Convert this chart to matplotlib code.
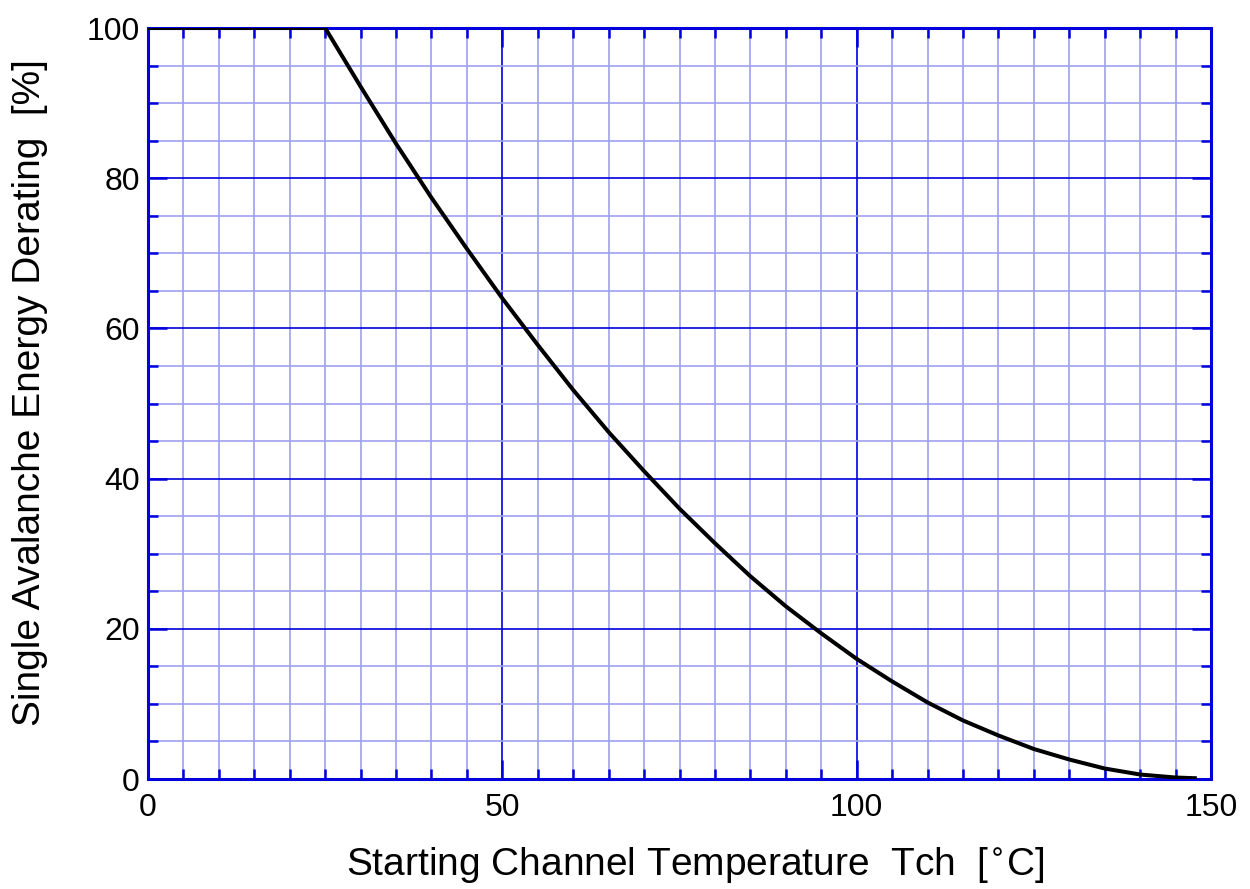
import matplotlib.pyplot as plt
from matplotlib.ticker import MultipleLocator

plt.rcParams['font.family'] = ['Liberation Sans', 'DejaVu Sans']

# channel temperature [°C] and derating [%]
temp = [0, 25, 30, 35, 40, 45, 50, 55, 60, 65, 70, 75, 80, 85, 90, 95,
        100, 105, 110, 115, 120, 125, 130, 135, 140, 145, 148]
derating = [100, 100, 92.2, 84.6, 77.4, 70.6, 64.0, 57.8, 51.8, 46.2, 41.0,
            36.0, 31.4, 27.0, 23.0, 19.4, 16.0, 13.0, 10.2, 7.8, 5.8, 4.0,
            2.6, 1.4, 0.6, 0.2, 0.1]

blue = '#0000dd'

fig = plt.figure(figsize=(12.5, 8.89), dpi=100)
ax = fig.add_axes([0.1184, 0.1237, 0.8504, 0.8448])

ax.plot(temp, derating, color='black', lw=2.9, solid_capstyle='butt',
        solid_joinstyle='round', zorder=5)

ax.set_xlim(0, 150)
ax.set_ylim(0, 100)
ax.xaxis.set_major_locator(MultipleLocator(50))
ax.xaxis.set_minor_locator(MultipleLocator(5))
ax.yaxis.set_major_locator(MultipleLocator(20))
ax.yaxis.set_minor_locator(MultipleLocator(5))

ax.grid(which='major', color=blue, lw=1.2)
ax.grid(which='minor', color='#a0a0f2', lw=1.2)
ax.set_axisbelow(True)

for s in ax.spines.values():
    s.set_color(blue)
    s.set_linewidth(2.2)

ax.tick_params(which='both', direction='in', top=True, right=True, color=blue,
               labelsize=23, labelcolor='black')
ax.tick_params(which='major', length=14, width=1.8, pad=10)
ax.tick_params(which='minor', length=7, width=1.8)
ax.tick_params(axis='y', which='major', pad=6)

ax.set_xlabel('Starting Channel Temperature  Tch  [$^{\\circ}$C]', fontsize=28, labelpad=16)
ax.set_ylabel('Single Avalanche Energy Derating  [%]', fontsize=28, labelpad=28)
ax.xaxis.label.set_x(0.515)
ax.yaxis.label.set_y(0.515)

fig.savefig('out.png', dpi=100)
